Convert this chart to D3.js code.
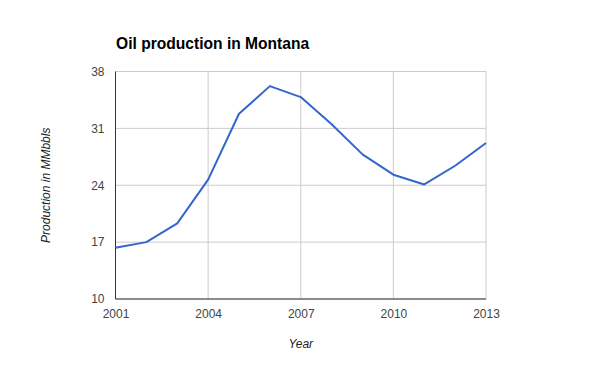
<!DOCTYPE html>
<html>
<head>
<meta charset="utf-8">
<script src="https://cdn.jsdelivr.net/npm/d3@7"></script>
<style>
  body { margin: 0; background: #fff; }
  svg text { font-family: Arial, "Liberation Sans", sans-serif; }
</style>
</head>
<body>
<svg id="chart"></svg>
<script>
let width = 600;
let height = 371;
let margin = { top: 71.5, right: 114, bottom: 72, left: 115.5 };

// oil production, MMbbls
let years = [2001, 2002, 2003, 2004, 2005, 2006, 2007, 2008, 2009, 2010, 2011, 2012, 2013];
let production = [16.3, 17.0, 19.3, 24.7, 32.8, 36.2, 34.85, 31.5, 27.8, 25.3, 24.1, 26.4, 29.2];
let xTicks = [2001, 2004, 2007, 2010, 2013];
let yTicks = [10, 17, 24, 31, 38];

let svg = d3
  .select("svg#chart")
  .attr("width", width)
  .attr("height", height)
  .style("background", "#fff");

let xScale = d3
  .scaleLinear()
  .domain([2001, 2013])
  .range([margin.left, width - margin.right]);

let yScale = d3
  .scaleLinear()
  .domain([10, 38])
  .range([height - margin.bottom, margin.top]);

let data = years.map((y, i) => ({ year: y, value: production[i] }));

// gridlines
svg
  .append("g")
  .selectAll("line.hgrid")
  .data(yTicks)
  .join("line")
  .attr("class", "hgrid")
  .attr("x1", margin.left)
  .attr("x2", width - margin.right)
  .attr("y1", (d) => yScale(d))
  .attr("y2", (d) => yScale(d))
  .attr("stroke", "#cccccc")
  .attr("stroke-width", 1);

svg
  .append("g")
  .selectAll("line.vgrid")
  .data(xTicks)
  .join("line")
  .attr("class", "vgrid")
  .attr("x1", (d) => xScale(d))
  .attr("x2", (d) => xScale(d))
  .attr("y1", margin.top)
  .attr("y2", height - margin.bottom)
  .attr("stroke", "#cccccc")
  .attr("stroke-width", 1);

// axes
let xAxis = d3.axisBottom(xScale).tickValues(xTicks).tickFormat(d3.format("d")).tickSize(0).tickPadding(10);
let yAxis = d3.axisLeft(yScale).tickValues(yTicks).tickSize(0).tickPadding(11);

svg
  .append("g")
  .attr("transform", `translate(0, ${height - margin.bottom})`)
  .call(xAxis)
  .call((g) => g.select(".domain").remove())
  .call((g) => g.selectAll("text").attr("fill", "#444").style("font-size", "12px").style("font-family", "Arial, 'Liberation Sans', sans-serif"));

svg
  .append("g")
  .attr("transform", `translate(${margin.left}, 0)`)
  .call(yAxis)
  .call((g) => g.select(".domain").remove())
  .call((g) => g.selectAll("text").attr("fill", "#444").style("font-size", "12px").style("font-family", "Arial, 'Liberation Sans', sans-serif"));

// baselines
svg
  .append("line")
  .attr("x1", margin.left)
  .attr("x2", margin.left)
  .attr("y1", margin.top)
  .attr("y2", height - margin.bottom)
  .attr("stroke", "#333")
  .attr("stroke-width", 1);

svg
  .append("line")
  .attr("x1", margin.left)
  .attr("x2", width - margin.right)
  .attr("y1", height - margin.bottom)
  .attr("y2", height - margin.bottom)
  .attr("stroke", "#333")
  .attr("stroke-width", 1);

// line
let line = d3
  .line()
  .x((d) => xScale(d.year))
  .y((d) => yScale(d.value));

svg
  .append("path")
  .datum(data)
  .attr("d", line)
  .attr("fill", "none")
  .attr("stroke", "#3366cc")
  .attr("stroke-width", 2)
  .attr("stroke-linejoin", "round");

// title
svg
  .append("text")
  .attr("x", 116)
  .attr("y", 48.5)
  .attr("fill", "#000")
  .style("font-size", "15.6px")
  .style("font-weight", "bold")
  .text("Oil production in Montana");

// axis titles
svg
  .append("text")
  .attr("x", (margin.left + width - margin.right) / 2)
  .attr("y", 347.5)
  .attr("text-anchor", "middle")
  .attr("fill", "#222")
  .style("font-size", "12px")
  .style("font-style", "italic")
  .text("Year");

svg
  .append("text")
  .attr("transform", `translate(50, ${(margin.top + height - margin.bottom) / 2}) rotate(-90)`)
  .attr("text-anchor", "middle")
  .attr("fill", "#222")
  .style("font-size", "12px")
  .style("font-style", "italic")
  .text("Production in MMbbls");
</script>
</body>
</html>
